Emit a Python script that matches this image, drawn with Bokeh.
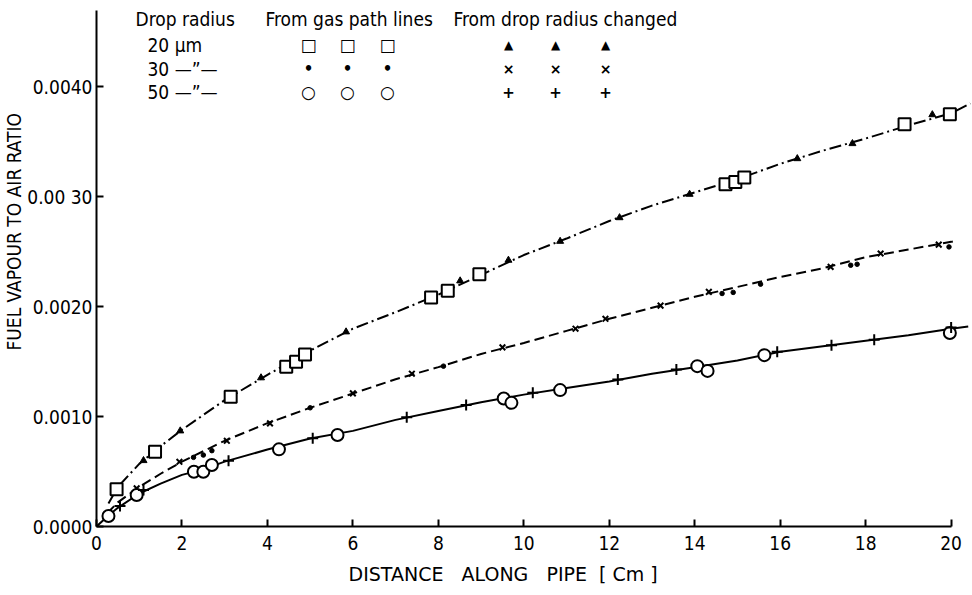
from bokeh.plotting import figure
from bokeh.models import Range1d, FixedTicker, Label, Title
from bokeh.embed import file_html
from bokeh.resources import INLINE

# ---------------- data ----------------
x_ticks = [0, 2, 4, 6, 8, 10, 12, 14, 16, 18, 20]
x_tick_labels = ["0", "2", "4", "6", "8", "10", "12", "14", "16", "18", "20"]
y_ticks = [0.0, 0.001, 0.002, 0.003, 0.004]
y_tick_labels = ["0.0000", "0.0010", "0.0020", "0.00 30", "0.0040"]

# 20 um drop radius
r20_curve_x = [0.28, 0.5, 1.0, 1.5, 2.0, 3.0, 4.0, 5.0, 6.0, 7.0, 8.0, 9.0, 10.0, 11.0, 12.0,
               13.0, 14.0, 15.0, 16.0, 17.0, 18.0, 19.0, 20.0, 20.45]
r20_curve_y = [0.00021, 0.00036, 0.00057, 0.00073, 0.00088, 0.00115, 0.00138, 0.00160, 0.00180,
               0.00195, 0.00211, 0.00229, 0.00247, 0.00262, 0.00278, 0.00292, 0.00304, 0.00316,
               0.00330, 0.00342, 0.00353, 0.00365, 0.00376, 0.00385]
r20_gas_x = [0.47, 1.37, 3.14, 4.44, 4.67, 4.88, 7.83, 8.22, 8.96, 14.72, 14.95, 15.16, 18.91, 19.97]
r20_gas_y = [0.00034, 0.00068, 0.00118, 0.001453, 0.001498, 0.001565, 0.002084, 0.002144,
             0.002295, 0.003114, 0.003135, 0.003175, 0.003659, 0.00375]
r20_drop_x = [1.10, 1.96, 3.85, 5.84, 8.51, 9.64, 10.85, 12.24, 13.88, 16.40, 17.69, 19.56]
r20_drop_y = [0.00060, 0.00087, 0.001353, 0.001771, 0.002235, 0.002423, 0.002595, 0.00281,
              0.003023, 0.003347, 0.003484, 0.003747]

# 30 um drop radius
r30_curve_x = [0.25, 0.5, 1.0, 1.5, 2.0, 3.0, 4.0, 5.0, 6.0, 7.0, 8.0, 9.0, 10.0, 11.0, 12.0,
               13.0, 14.0, 15.0, 16.0, 17.0, 18.0, 19.0, 20.0, 20.1]
r30_curve_y = [0.00012, 0.00022, 0.00036, 0.00048, 0.00059, 0.00078, 0.00094, 0.00108, 0.00121,
               0.00134, 0.00145, 0.00157, 0.00167, 0.00178, 0.00189, 0.00199, 0.00209, 0.00218,
               0.00227, 0.00235, 0.00245, 0.00252, 0.00259, 0.00260]
r30_gas_x = [2.27, 2.50, 2.70, 5.0, 8.12, 14.64, 14.90, 15.54, 17.65, 17.80, 19.95]
r30_gas_y = [0.000629, 0.00065, 0.00069, 0.00108, 0.001459, 0.00212, 0.00213, 0.002205,
             0.002377, 0.002386, 0.002544]
r30_drop_x = [0.94, 1.94, 3.05, 4.06, 6.0, 7.38, 9.5, 11.21, 11.91, 13.2, 14.33, 17.18, 18.35, 19.71]
r30_drop_y = [0.000347, 0.000589, 0.00078, 0.000938, 0.001211, 0.00139, 0.00163, 0.0018,
              0.00189, 0.00201, 0.002135, 0.002362, 0.002484, 0.002565]

# 50 um drop radius
r50_curve_x = [0.0, 0.28, 0.5, 1.0, 1.5, 2.0, 2.5, 3.0, 4.0, 5.0, 6.0, 7.0, 8.0, 9.0, 10.0, 11.0,
               12.0, 13.0, 14.0, 15.0, 16.0, 17.0, 18.0, 19.0, 20.0, 20.4]
r50_curve_y = [0.0, 0.00010, 0.00017, 0.00030, 0.00039, 0.00047, 0.00052, 0.00059, 0.00070,
               0.00080, 0.00087, 0.00097, 0.00105, 0.00113, 0.00120, 0.00126, 0.00132, 0.00139,
               0.00145, 0.00151, 0.00159, 0.00164, 0.00169, 0.00174, 0.00180, 0.00182]
r50_gas_x = [0.28, 0.94, 2.28, 2.50, 2.70, 4.27, 5.64, 9.53, 9.71, 10.85, 14.06, 14.30, 15.63, 19.97]
r50_gas_y = [0.000095, 0.000286, 0.000498, 0.000498, 0.000559, 0.000702, 0.000832, 0.001165,
             0.001125, 0.001241, 0.001459, 0.001416, 0.001559, 0.00176]
r50_drop_x = [0.55, 1.10, 3.09, 5.06, 7.26, 8.65, 10.21, 12.20, 13.57, 15.93, 17.2, 18.2, 20.0]
r50_drop_y = [0.000186, 0.000332, 0.000598, 0.000802, 0.000993, 0.001105, 0.001216, 0.001338,
              0.001429, 0.001589, 0.00165, 0.0017, 0.00181]

legend_radii = ["20  \u03bcm", "30 \u2014\u201d\u2014", "50 \u2014\u201d\u2014"]
legend_headers = ["Drop radius", "From gas path lines", "From drop radius changed"]
legend_gas_symbols = ["\u25a1", "\u2022", "\u25cb"]
legend_drop_symbols = ["\u25b2", "\u00d7", "+"]

y_title = "FUEL VAPOUR TO AIR RATIO"
x_title = "DISTANCE\u00a0\u00a0\u00a0ALONG\u00a0\u00a0\u00a0PIPE\u00a0\u00a0[\u00a0Cm\u00a0]"

# ---------------- figure ----------------
FONT = "DejaVu Sans Condensed"
p = figure(width=972, height=595, output_backend="svg", toolbar_location=None,
           x_range=Range1d(0, 20.5), y_range=Range1d(0, 0.004695),
           min_border_left=96, min_border_right=0, min_border_top=10, min_border_bottom=69)
p.grid.visible = False
p.outline_line_color = None

for ax in (p.xaxis[0], p.yaxis[0]):
    ax.axis_line_width = 2
    ax.axis_line_color = "black"
    ax.major_tick_in = 7
    ax.major_tick_out = 0
    ax.major_tick_line_width = 2
    ax.minor_tick_line_color = None
    ax.major_label_text_font = FONT
    ax.major_label_text_font_size = "19px"
    ax.major_label_text_color = "black"

p.xaxis.bounds = (0, 20)
p.xaxis.ticker = FixedTicker(ticks=x_ticks)
p.xaxis.major_label_overrides = {t: l for t, l in zip(x_ticks, x_tick_labels)}
p.xaxis.major_label_standoff = 9
p.yaxis.ticker = FixedTicker(ticks=y_ticks)
p.yaxis.major_label_standoff = 4
p.yaxis.major_label_overrides = {t: l for t, l in zip(y_ticks, y_tick_labels)}

# curves
p.line(r20_curve_x, r20_curve_y, line_color="black", line_width=2, line_dash="12 4 2 4")
p.line(r30_curve_x, r30_curve_y, line_color="black", line_width=2, line_dash="10 5")
p.line(r50_curve_x, r50_curve_y, line_color="black", line_width=2)

# markers
p.scatter(r20_gas_x, r20_gas_y, marker="square", size=12, fill_color="white",
          line_color="black", line_width=2)
p.scatter(r20_drop_x, r20_drop_y, marker="triangle", size=7, fill_color="black",
          line_color="black", line_width=1)
p.scatter(r30_gas_x, r30_gas_y, marker="circle", size=4.5, fill_color="black", line_color="black")
p.scatter(r30_drop_x, r30_drop_y, marker="x", size=8, line_color="black", line_width=2)
p.scatter(r50_gas_x, r50_gas_y, marker="circle", size=12, fill_color="white",
          line_color="black", line_width=2)
p.scatter(r50_drop_x, r50_drop_y, marker="cross", size=11, line_color="black", line_width=2)

# axis titles
p.add_layout(Title(text=y_title, align="left", offset=176,
                   text_font=FONT, text_font_size="19px", text_font_style="normal",
                   text_color="black", standoff=0), "left")
p.add_layout(Title(text=x_title, align="left", offset=252,
                   text_font="DejaVu Sans", text_font_size="19px", text_font_style="normal",
                   text_color="black", standoff=17), "below")

# legend table (pixel positions relative to the plot frame)
header_x = [39, 169, 357]
for hx, txt in zip(header_x, legend_headers):
    p.add_layout(Label(x=hx, y=508, x_units="screen", y_units="screen", text=txt,
                       text_align="left", text_baseline="middle",
                       text_font=FONT, text_font_size="19px", text_color="black"))
row_y = [482, 458, 435]
for ry, txt in zip(row_y, legend_radii):
    p.add_layout(Label(x=51, y=ry, x_units="screen", y_units="screen", text=txt,
                       text_align="left", text_baseline="middle",
                       text_font=FONT, text_font_size="19px", text_color="black"))
gas_cols = [212, 251, 291]
drop_cols = [412, 459, 509]
gas_sizes = ["17px", "15px", "17px"]
drop_sizes = ["12px", "14px", "15px"]
for ry, gs, ds, gsz, dsz in zip(row_y, legend_gas_symbols, legend_drop_symbols, gas_sizes, drop_sizes):
    for cx in gas_cols:
        p.add_layout(Label(x=cx, y=ry, x_units="screen", y_units="screen", text=gs,
                           text_align="center", text_baseline="middle",
                           text_font="DejaVu Sans", text_font_size=gsz, text_font_style="bold",
                           text_color="black"))
    for cx in drop_cols:
        p.add_layout(Label(x=cx, y=ry, x_units="screen", y_units="screen", text=ds,
                           text_align="center", text_baseline="middle",
                           text_font="DejaVu Sans", text_font_size=dsz, text_font_style="bold",
                           text_color="black"))

open("out.html", "w").write(file_html(p, INLINE))
